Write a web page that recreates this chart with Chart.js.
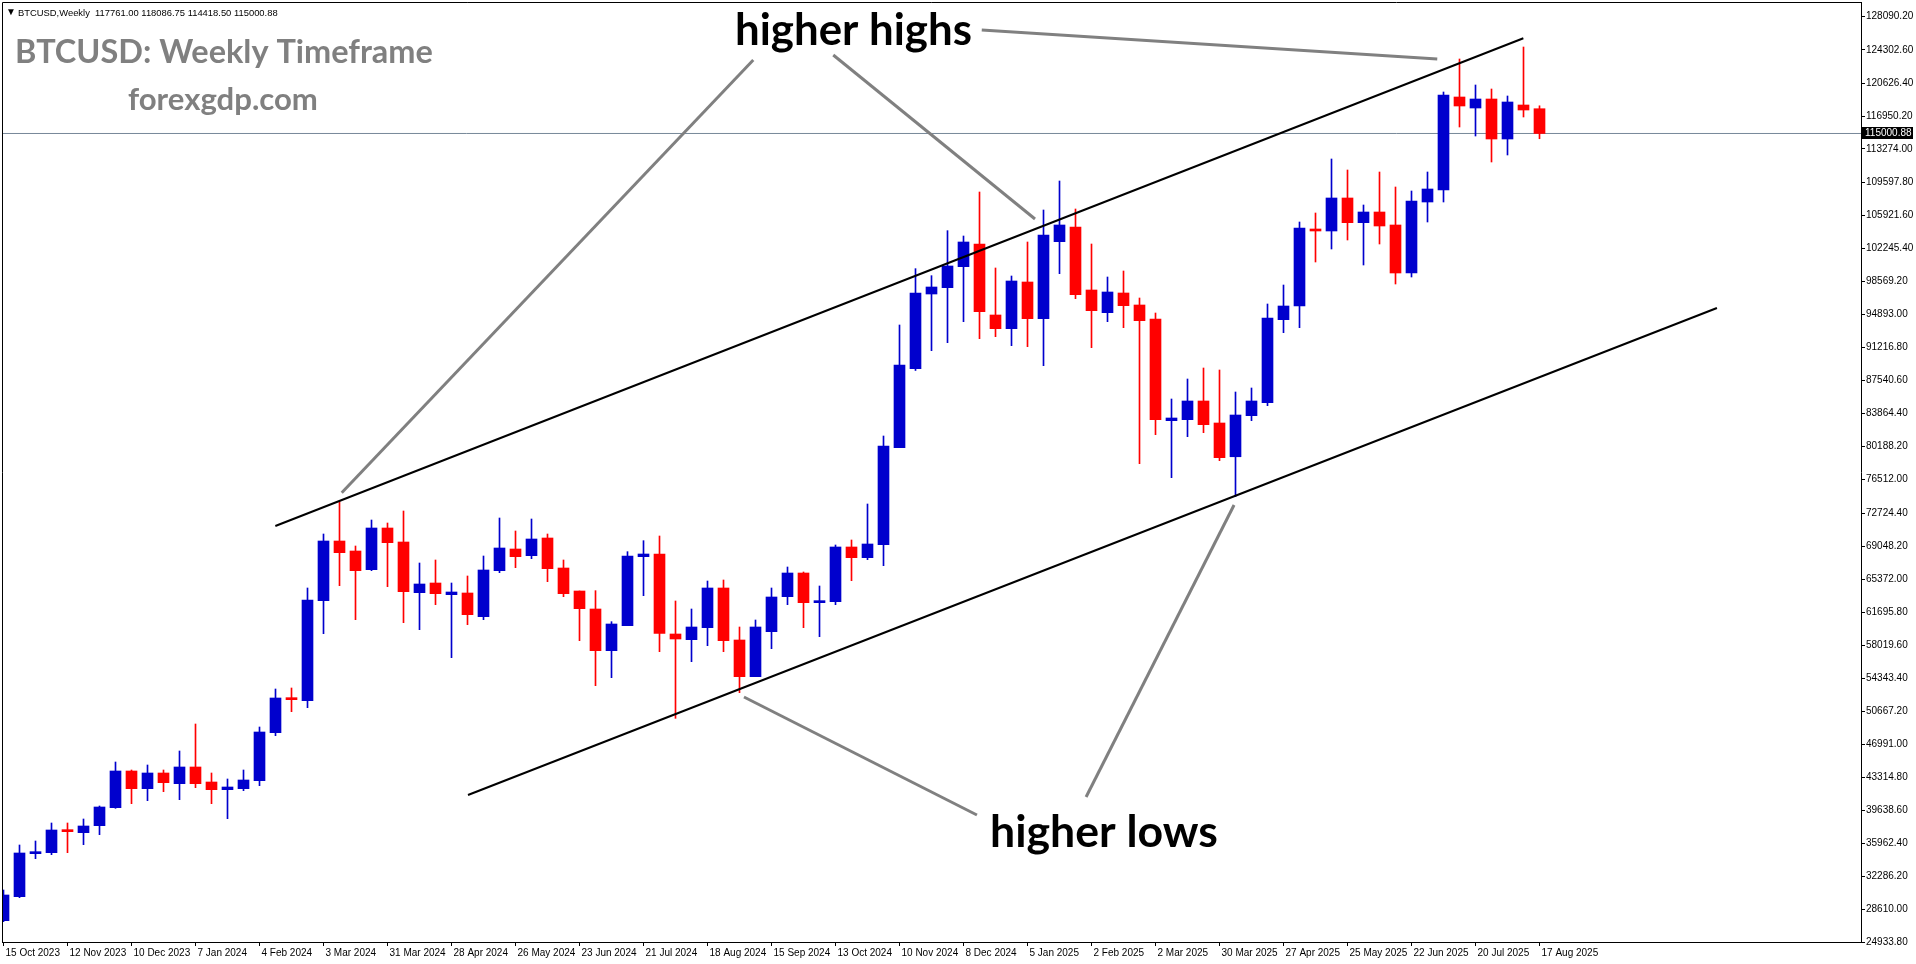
<!DOCTYPE html>
<html>
<head>
<meta charset="utf-8">
<style>
  html, body { margin: 0; padding: 0; background: #fff; overflow: hidden; }
  #wrap { width: 1916px; height: 964px; position: relative; }
</style>
<script src="https://cdn.jsdelivr.net/npm/chart.js@4.4.1/dist/chart.umd.min.js"></script>
</head>
<body>
<div id="wrap"><canvas id="chart" width="1916" height="964"></canvas></div>
<script>
// weekly candles, one per week starting 15 Oct 2023
const opens = [27311, 29985, 34774, 34886, 37411, 37114, 37894, 39899, 43984, 42016,
  43761, 42573, 44430, 42758, 41904, 42016, 42907, 48254, 52116, 51818,
  62959, 69605, 68491, 66412, 71053, 69494, 63850, 64926, 63627, 63813,
  61176, 66300, 68714, 67971, 69939, 66597, 64035, 62030, 57388, 60173,
  67860, 68157, 59245, 58614, 59951, 64370, 58577, 54492, 59505, 63404,
  66040, 62736, 62848, 68938, 67749, 69197, 80003, 88803, 97121, 97827,
  100166, 102691, 94782, 93259, 98458, 94373, 102951, 104585, 97567, 95042,
  97233, 95896, 94336, 83011, 83122, 85202, 82751, 78990, 83568, 85016,
  94262, 95785, 104362, 104140, 107816, 105068, 106256, 104808, 99461, 107370,
  108707, 119067, 117841, 118844, 114388, 118176, 117761.00];
const highs = [30727, 35740, 36185, 38191, 38191, 38636, 40085, 44986, 44095, 44652,
  44095, 46212, 49219, 43761, 43093, 44095, 48885, 53118, 53230, 64370,
  70385, 73987, 69048, 71944, 71610, 72947, 67154, 67489, 64926, 65707,
  67934, 72167, 70719, 72056, 70385, 67489, 64035, 64072, 60619, 68417,
  69642, 70162, 62922, 62030, 65149, 65261, 60025, 60805, 64370, 66709,
  66152, 64593, 69160, 69717, 73727, 81302, 93668, 99944, 99163, 104177,
  103582, 108484, 100018, 99126, 102914, 106479, 109709, 106590, 102691, 99015,
  99683, 96675, 95004, 85424, 87652, 88877, 88655, 86204, 86650, 96007,
  98123, 105142, 106145, 112161, 110935, 107036, 110712, 109041, 108595, 110712,
  119624, 123300, 120404, 119958, 119179, 124637, 118086.75];
const lows = [27199, 29874, 34217, 34663, 34886, 35778, 36891, 39825, 40345, 40679,
  41682, 40790, 42127, 40345, 38673, 41793, 42350, 47920, 50593, 51038,
  59283, 64629, 60842, 66300, 64518, 60508, 59728, 62513, 56609, 60285,
  60842, 66078, 66635, 67637, 65075, 63404, 58502, 53489, 54380, 60173,
  63515, 57277, 49850, 56163, 57945, 57277, 52710, 54492, 57611, 62513,
  59951, 58948, 62513, 65186, 67526, 66857, 80003, 88600, 90809, 91700,
  94039, 92145, 92368, 91366, 91254, 89137, 99386, 96601, 91143, 94039,
  93371, 78220, 81451, 76660, 81228, 81674, 78554, 74544, 83011, 84681,
  92814, 93371, 100686, 102134, 103137, 100352, 102691, 98235, 99015, 105142,
  107370, 115725, 114722, 111826, 112606, 116839, 114418.50];
const closes = [30170, 34849, 34960, 37411, 37226, 37857, 39973, 43984, 42016, 43761,
  42684, 44430, 42573, 41904, 42201, 42981, 48328, 52116, 51930, 63033,
  69605, 68306, 66300, 71053, 69420, 63961, 64815, 63738, 63924, 61398,
  66375, 68825, 67860, 69828, 66523, 63738, 62067, 57388, 60359, 67934,
  68157, 59320, 58688, 60025, 64370, 58502, 54492, 60025, 63367, 66040,
  62736, 62922, 68938, 67749, 69271, 80188, 89212, 97233, 97901, 100241,
  102914, 95152, 93259, 98569, 94373, 103694, 104808, 97047, 95265, 97344,
  95822, 94151, 83122, 83308, 85202, 82566, 78889, 83641, 85202, 94447,
  95784, 104474, 104140, 107816, 105068, 106256, 104697, 99461, 107481, 108818,
  119290, 118064, 118844, 114388, 118510, 117619, 115000.88];

// one date label every 4 weeks (candle index 0, 4, 8 ...)
const tickLabels = ['15 Oct 2023', '12 Nov 2023', '10 Dec 2023', '7 Jan 2024', '4 Feb 2024',
  '3 Mar 2024', '31 Mar 2024', '28 Apr 2024', '26 May 2024', '23 Jun 2024', '21 Jul 2024',
  '18 Aug 2024', '15 Sep 2024', '13 Oct 2024', '10 Nov 2024', '8 Dec 2024', '5 Jan 2025',
  '2 Feb 2025', '2 Mar 2025', '30 Mar 2025', '27 Apr 2025', '25 May 2025', '22 Jun 2025',
  '20 Jul 2025', '17 Aug 2025'];
const priceTicks = [128090.20, 124302.60, 120626.40, 116950.20, 113274.00, 109597.80,
  105921.60, 102245.40, 98569.20, 94893.00, 91216.80, 87540.60, 83864.40, 80188.20,
  76512.00, 72724.40, 69048.20, 65372.00, 61695.80, 58019.60, 54343.40, 50667.20,
  46991.00, 43314.80, 39638.60, 35962.40, 32286.20, 28610.00, 24933.80];
const lastPrice = 115000.88;

// drawn channel and pointer lines, [candle index, price]
const upperChannel = [[16.99, 71276], [94.99, 125606]];
const lowerChannel = [[29.03, 41308], [107.09, 95561]];
const highsPointers = [
  [[46.86, 123189], [21.14, 74986]],
  [[51.86, 123746], [64.47, 105476]],
  [[61.14, 126531], [89.61, 123300]]
];
const lowsPointers = [
  [[46.28, 52226], [60.84, 39081]],
  [[67.66, 41087], [76.91, 73615]]
];

const BLUE = '#0000CD';
const RED = '#FF0000';
const candleColors = opens.map((o, i) => closes[i] >= o ? BLUE : RED);

function segment(pts, color, width) {
  return {
    type: 'line',
    data: pts.map(p => ({ x: p[0], y: p[1] })),
    borderColor: color,
    borderWidth: width,
    pointRadius: 0,
    tension: 0,
    fill: false,
    order: 0
  };
}

function fitFont(ctx, text, weight, family, width) {
  ctx.font = weight + ' 100px ' + family;
  return 100 * width / ctx.measureText(text).width;
}

function drawFitted(ctx, text, x, baseline, width, weight, family, color) {
  const size = fitFont(ctx, text, weight, family, width);
  ctx.font = weight + ' ' + size + 'px ' + family;
  ctx.fillStyle = color;
  ctx.textAlign = 'left';
  ctx.textBaseline = 'alphabetic';
  ctx.fillText(text, x, baseline);
}

const overlay = {
  id: 'overlay',
  afterDraw(chart) {
    const ctx = chart.ctx;
    const area = chart.chartArea;
    const y = chart.scales.y;
    ctx.save();
    // frame top and left
    ctx.strokeStyle = '#000';
    ctx.lineWidth = 1;
    ctx.beginPath();
    ctx.moveTo(area.left + 0.5, area.bottom);
    ctx.lineTo(area.left + 0.5, area.top + 0.5);
    ctx.lineTo(area.right, area.top + 0.5);
    ctx.stroke();

    // symbol header
    ctx.font = '10px "Liberation Sans"';
    ctx.fillStyle = '#000';
    ctx.textBaseline = 'middle';
    ctx.fillText('\u25BC', 6, 12);
    drawFitted(ctx, 'BTCUSD,Weekly  117761.00 118086.75 114418.50 115000.88', 18, 16, 260, 'normal', '"Liberation Sans"', '#000');

    drawFitted(ctx, 'BTCUSD: Weekly Timeframe', 15, 63, 418, 'bold', 'Lato', '#808080');
    drawFitted(ctx, 'forexgdp.com', 128, 110, 190, 'bold', 'Lato', '#808080');
    drawFitted(ctx, 'higher highs', 735, 45, 237, 'bold', 'Lato', '#000');
    drawFitted(ctx, 'higher lows', 990, 847, 228, 'bold', 'Lato', '#000');

    // last price marker
    const py = Math.round(y.getPixelForValue(lastPrice));
    ctx.fillStyle = '#000';
    ctx.fillRect(area.right + 1, py - 6, 51, 12);
    ctx.font = '10px "Liberation Sans"';
    ctx.fillStyle = '#fff';
    ctx.textBaseline = 'middle';
    ctx.fillText(lastPrice.toFixed(2), area.right + 4, py);
    ctx.restore();
  }
};

const X0 = 3.5;   // pixel of candle 0
const STEP = 16;  // pixels per week

const ctx = document.getElementById('chart').getContext('2d');
new Chart(ctx, {
  type: 'bar',
  data: {
    datasets: [
      {
        data: opens.map((o, i) => ({ x: i, y: [lows[i], highs[i]] })),
        backgroundColor: candleColors,
        barThickness: 1,
        grouped: false,
        order: 2
      },
      {
        data: opens.map((o, i) => ({ x: i, y: [o, closes[i]] })),
        backgroundColor: candleColors,
        barThickness: 11,
        minBarLength: 2,
        grouped: false,
        order: 1
      },
      Object.assign(segment([[-1, lastPrice], [120, lastPrice]], '#778899', 1), { order: 3 }),
      segment(upperChannel, '#000', 2),
      segment(lowerChannel, '#000', 2),
      ...highsPointers.map(p => segment(p, '#808080', 3)),
      ...lowsPointers.map(p => segment(p, '#808080', 3))
    ]
  },
  options: {
    responsive: false,
    devicePixelRatio: 1,
    animation: false,
    layout: { padding: { top: 2, left: 2, right: 0, bottom: 0 } },
    plugins: { legend: { display: false }, tooltip: { enabled: false } },
    scales: {
      x: {
        type: 'linear',
        offset: false,
        min: (2 - X0) / STEP,
        max: (1861 - X0) / STEP,
        afterBuildTicks: s => { s.ticks = tickLabels.map((t, k) => ({ value: k * 4 })); },
        afterFit: s => { s.height = 22; s.paddingLeft = 0; s.paddingRight = 0; },
        ticks: {
          autoSkip: false,
          maxRotation: 0,
          align: 'start',
          labelOffset: 2,
          padding: 1,
          color: '#000',
          font: { family: '"Liberation Sans"', size: 10 },
          callback: (v, k) => tickLabels[k]
        },
        grid: { offset: false, drawOnChartArea: false, tickLength: 4, color: '#000' },
        border: { color: '#000', width: 1 }
      },
      y: {
        position: 'right',
        min: 24933.8,
        max: 129649.8,
        afterBuildTicks: s => { s.ticks = priceTicks.map(v => ({ value: v })); },
        afterFit: s => { s.width = 55; s.paddingTop = 0; s.paddingBottom = 0; },
        ticks: {
          autoSkip: false,
          padding: 1,
          color: '#000',
          font: { family: '"Liberation Sans"', size: 10 },
          callback: v => v.toFixed(2)
        },
        grid: { drawOnChartArea: false, tickLength: 4, color: '#000' },
        border: { color: '#000', width: 1 }
      }
    }
  },
  plugins: [overlay]
});
</script>
</body>
</html>
